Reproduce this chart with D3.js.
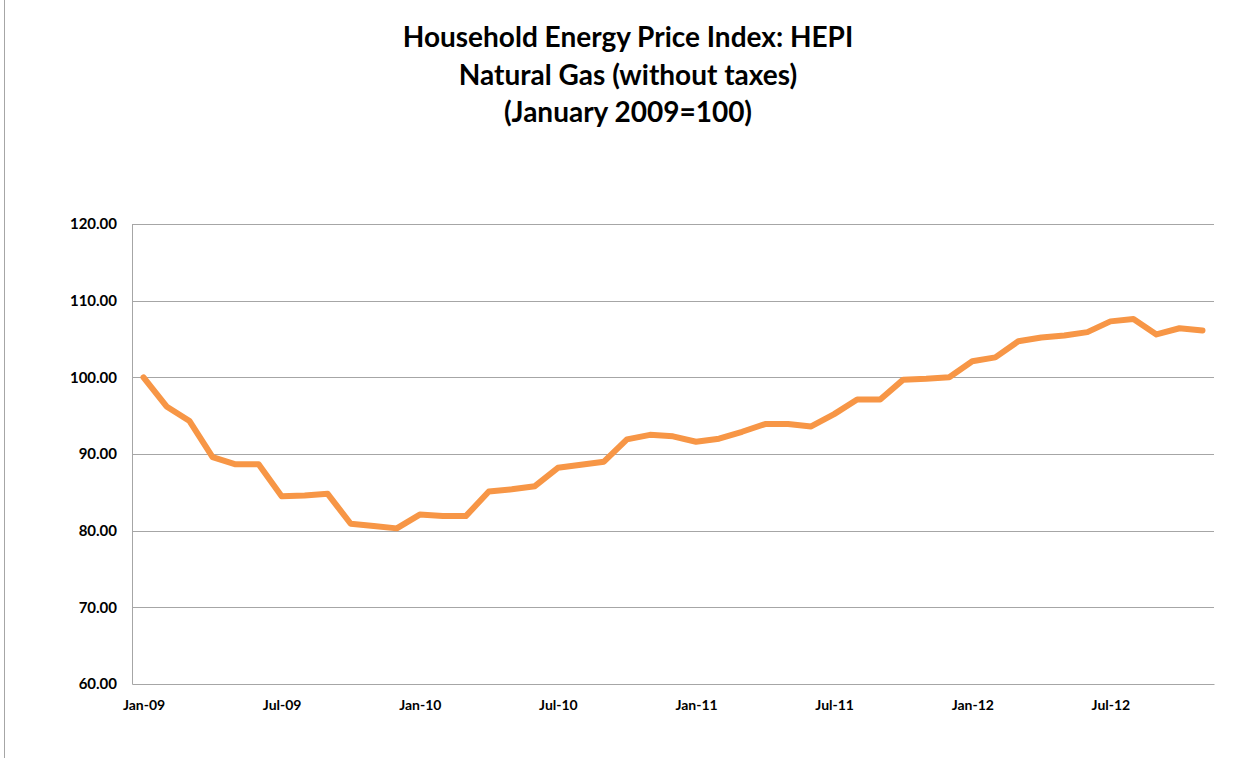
<!DOCTYPE html>
<html>
<head>
<meta charset="utf-8">
<script src="https://cdn.jsdelivr.net/npm/d3@7"></script>
<style>
    body { margin: 0; background: #ffffff; }
    svg { display: block; }
</style>
</head>
<body>
<div id="chart"></div>
<script>
// Monthly index values, Jan-09 .. Nov-12
const months = ["Jan-09","Feb-09","Mar-09","Apr-09","May-09","Jun-09","Jul-09","Aug-09","Sep-09","Oct-09","Nov-09","Dec-09",
                "Jan-10","Feb-10","Mar-10","Apr-10","May-10","Jun-10","Jul-10","Aug-10","Sep-10","Oct-10","Nov-10","Dec-10",
                "Jan-11","Feb-11","Mar-11","Apr-11","May-11","Jun-11","Jul-11","Aug-11","Sep-11","Oct-11","Nov-11","Dec-11",
                "Jan-12","Feb-12","Mar-12","Apr-12","May-12","Jun-12","Jul-12","Aug-12","Sep-12","Oct-12","Nov-12"];
const hepiValues = [100.0, 96.2, 94.3, 89.6, 88.65, 88.65, 84.5, 84.6, 84.8, 80.9, 80.6, 80.3,
                    82.1, 81.9, 81.9, 85.1, 85.4, 85.8, 88.2, 88.6, 89.0, 91.9, 92.5, 92.3,
                    91.6, 92.0, 92.9, 93.9, 93.9, 93.6, 95.2, 97.1, 97.1, 99.7, 99.8, 100.0,
                    102.1, 102.6, 104.7, 105.2, 105.45, 105.9, 107.3, 107.6, 105.6, 106.4, 106.1];
const yTicks = [60, 70, 80, 90, 100, 110, 120];
const xTickLabels = ["Jan-09", "Jul-09", "Jan-10", "Jul-10", "Jan-11", "Jul-11", "Jan-12", "Jul-12"];
const titleLines = ["Household Energy Price Index: HEPI", "Natural Gas (without taxes)", "(January 2009=100)"];

const width = 1250;
const height = 758;
const margin = { top: 224, right: 36, bottom: 74, left: 132 };
const innerWidth = width - margin.left - margin.right;
const innerHeight = height - margin.top - margin.bottom;
const font = "Lato, 'Open Sans', sans-serif";

const data = months.map((m, i) => ({ month: m, value: hepiValues[i] }));

const svg = d3.select("#chart")
    .append("svg")
    .attr("width", width)
    .attr("height", height);

// thin outer chart border on the left
svg.append("line")
    .attr("x1", 4.5).attr("x2", 4.5)
    .attr("y1", 0).attr("y2", height)
    .attr("stroke", "#a6a6a6")
    .attr("stroke-width", 1);

// Title
svg.append("g")
    .selectAll("text")
    .data(titleLines)
    .join("text")
    .attr("x", 628)
    .attr("y", (d, i) => 47 + i * 37.5)
    .attr("text-anchor", "middle")
    .style("font-family", font)
    .style("font-weight", "bold")
    .style("font-size", "28px")
    .attr("fill", "#000")
    .text(d => d);

const g = svg.append("g")
    .attr("transform", `translate(${margin.left}, ${margin.top})`);

// category axis, points sit in the middle of each month slot
const x = d3.scalePoint()
    .domain(months)
    .range([0, innerWidth])
    .padding(0.5);

const y = d3.scaleLinear()
    .domain([60, 120])
    .range([innerHeight, 0]);

// horizontal gridlines
g.append("g")
    .selectAll("line")
    .data(yTicks.filter(t => t > 60))
    .join("line")
    .attr("x1", 0)
    .attr("x2", innerWidth)
    .attr("y1", d => Math.round(y(d)) + 0.5)
    .attr("y2", d => Math.round(y(d)) + 0.5)
    .attr("stroke", "#a6a6a6")
    .attr("stroke-width", 1);

// y axis
const yAxis = g.append("g")
    .call(d3.axisLeft(y).tickValues(yTicks).tickFormat(d3.format(".2f")).tickSize(0).tickPadding(15));
yAxis.select(".domain").attr("stroke", "#a6a6a6");
yAxis.selectAll("text")
    .style("font-family", font)
    .style("font-weight", "bold")
    .style("font-size", "15px")
    .attr("fill", "#000");

// x axis
const xAxis = g.append("g")
    .attr("transform", `translate(0, ${innerHeight})`)
    .call(d3.axisBottom(x).tickValues(xTickLabels).tickSize(0).tickPadding(16));
xAxis.select(".domain").attr("stroke", "#a6a6a6");
xAxis.selectAll("text")
    .style("font-family", font)
    .style("font-weight", "bold")
    .style("font-size", "14px")
    .attr("fill", "#000");

// the line
const line = d3.line()
    .x(d => x(d.month))
    .y(d => y(d.value));

g.append("path")
    .datum(data)
    .attr("d", line)
    .attr("fill", "none")
    .attr("stroke", "#f79646")
    .attr("stroke-width", 6)
    .attr("stroke-linejoin", "round")
    .attr("stroke-linecap", "round");
</script>
</body>
</html>
